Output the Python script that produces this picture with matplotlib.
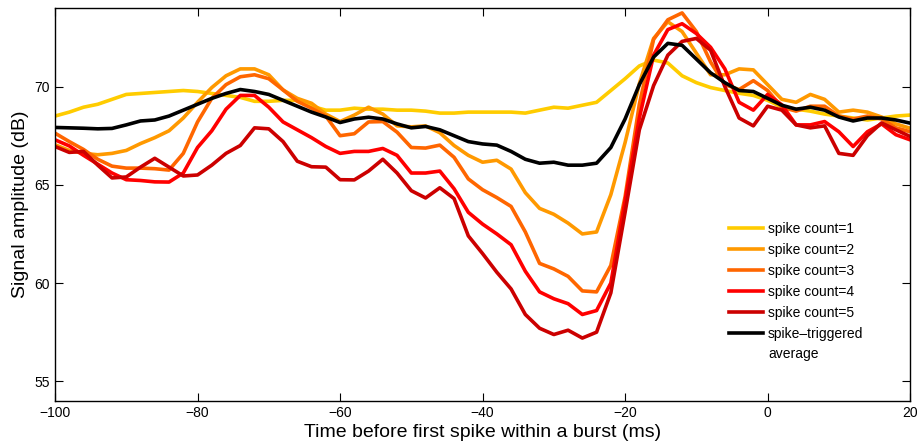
import matplotlib
matplotlib.use("Agg")
import matplotlib.pyplot as plt

plt.rcParams["font.family"] = ["Liberation Sans", "DejaVu Sans"]

# time axis (ms), common to all curves
t_ms = list(range(-100, 21, 2))

count1 = [68.5, 68.7, 68.95, 69.1, 69.35, 69.6, 69.65, 69.7, 69.75, 69.8,
          69.75, 69.65, 69.55, 69.45, 69.25, 69.25, 69.3, 69.3, 69.0, 68.8,
          68.8, 68.9, 68.85, 68.85, 68.8, 68.8, 68.75, 68.65, 68.65, 68.7,
          68.7, 68.7, 68.7, 68.65, 68.8, 68.95, 68.9, 69.05, 69.2, 69.8,
          70.4, 71.05, 71.35, 71.2, 70.55, 70.2, 69.95, 69.8, 69.66, 69.55,
          69.3, 68.95, 68.85, 68.75, 68.6, 68.5, 68.4, 68.3, 68.4, 68.5, 68.55]

count2 = [67.04, 66.75, 66.6, 66.53, 66.6, 66.75, 67.1, 67.4, 67.75, 68.4,
          69.2, 69.95, 70.55, 70.9, 70.9, 70.6, 69.83, 69.4, 69.15, 68.6,
          68.22, 68.55, 68.95, 68.6, 68.0, 67.95, 68.0, 67.65, 67.0, 66.5,
          66.15, 66.25, 65.8, 64.6, 63.8, 63.5, 63.05, 62.5, 62.6, 64.5,
          67.15, 70.15, 72.45, 73.3, 72.8, 71.7, 70.6, 70.6, 70.9, 70.85,
          70.1, 69.35, 69.2, 69.6, 69.35, 68.7, 68.8, 68.7, 68.45, 68.1, 67.88]

count3 = [67.63, 67.2, 66.8, 66.3, 65.95, 65.85, 65.85, 65.82, 65.75, 66.6,
          68.2, 69.4, 70.1, 70.5, 70.6, 70.4, 69.83, 69.25, 68.9, 68.5,
          67.5, 67.6, 68.2, 68.22, 67.68, 66.9, 66.87, 67.02, 66.4, 65.3,
          64.75, 64.35, 63.9, 62.6, 61.0, 60.72, 60.34, 59.6, 59.55, 60.9,
          64.4, 69.1, 72.4, 73.4, 73.75, 72.8, 71.25, 70.1, 69.85, 70.3,
          69.8, 68.95, 68.75, 69.0, 69.0, 68.5, 68.35, 68.5, 68.35, 67.9, 67.7]

count4 = [67.29, 66.98, 66.5, 66.05, 65.6, 65.26, 65.22, 65.15, 65.14, 65.6,
          66.9, 67.75, 68.85, 69.55, 69.55, 68.95, 68.2, 67.8, 67.4, 66.95,
          66.6, 66.7, 66.7, 66.85, 66.5, 65.6, 65.6, 65.7, 64.8, 63.6,
          63.0, 62.5, 61.95, 60.6, 59.55, 59.2, 58.95, 58.4, 58.6, 60.0,
          64.2, 68.4, 71.6, 72.9, 73.2, 72.7, 72.0, 70.9, 69.2, 68.8,
          69.6, 69.07, 68.05, 68.05, 68.22, 67.7, 66.95, 67.7, 68.1, 67.55, 67.29]

count5 = [66.95, 66.65, 66.7, 66.0, 65.35, 65.4, 65.9, 66.35, 65.9, 65.45,
          65.5, 66.0, 66.6, 67.0, 67.9, 67.85, 67.2, 66.2, 65.92, 65.9,
          65.26, 65.25, 65.7, 66.3, 65.6, 64.7, 64.33, 64.85, 64.3, 62.4,
          61.5, 60.55, 59.7, 58.4, 57.7, 57.38, 57.6, 57.2, 57.5, 59.5,
          63.6, 67.8, 70.05, 71.6, 72.3, 72.45, 71.85, 70.0, 68.4, 68.0,
          69.0, 68.8, 68.05, 67.9, 68.0, 66.6, 66.5, 67.5, 68.15, 67.8, 67.46]

sta = [67.92, 67.9, 67.88, 67.85, 67.87, 68.05, 68.25, 68.3, 68.5, 68.8,
       69.1, 69.4, 69.65, 69.85, 69.75, 69.6, 69.3, 69.0, 68.7, 68.45,
       68.17, 68.35, 68.44, 68.35, 68.1, 67.9, 67.97, 67.8, 67.5, 67.2,
       67.08, 67.02, 66.7, 66.3, 66.1, 66.15, 66.0, 66.0, 66.1, 66.9,
       68.35, 70.1, 71.5, 72.2, 72.1, 71.4, 70.7, 70.2, 69.8, 69.75,
       69.4, 69.05, 68.85, 68.95, 68.8, 68.45, 68.25, 68.4, 68.4, 68.3, 68.14]

series = [
    (count1, "#FFCC00", "spike count=1"),
    (count2, "#FF9900", "spike count=2"),
    (count3, "#FF6600", "spike count=3"),
    (count4, "#FF0000", "spike count=4"),
    (count5, "#CC0000", "spike count=5"),
    (sta, "#000000", "spike\u2013triggered"),
]

fig = plt.figure(figsize=(9.17, 4.44), dpi=100)
ax = fig.add_axes([0.06, 0.097, 0.9325, 0.885])

for values, color, label in series:
    ax.plot(t_ms, values, color=color, linewidth=2.6, label=label)
# second line of the last legend label, no visible handle
ax.plot([], [], color="none", label="average")

ax.set_xlim(-100, 20)
ax.set_ylim(54, 74)
ax.set_xticks([-100, -80, -60, -40, -20, 0, 20])
ax.set_yticks([55, 60, 65, 70])
ax.tick_params(direction="in", top=True, right=True, length=5.5, labelsize=10)
for s in ax.spines.values():
    s.set_linewidth(1.0)

ax.set_xlabel("Time before first spike within a burst (ms)", fontsize=14, labelpad=3)
ax.set_ylabel("Signal amplitude (dB)", fontsize=14, labelpad=4)

ax.legend(loc="upper left", bbox_to_anchor=(0.782, 0.47), frameon=False,
          fontsize=10, handlelength=2.45, handletextpad=0.35, labelspacing=0.5,
          borderaxespad=0)

fig.savefig("out.png", dpi=100)
